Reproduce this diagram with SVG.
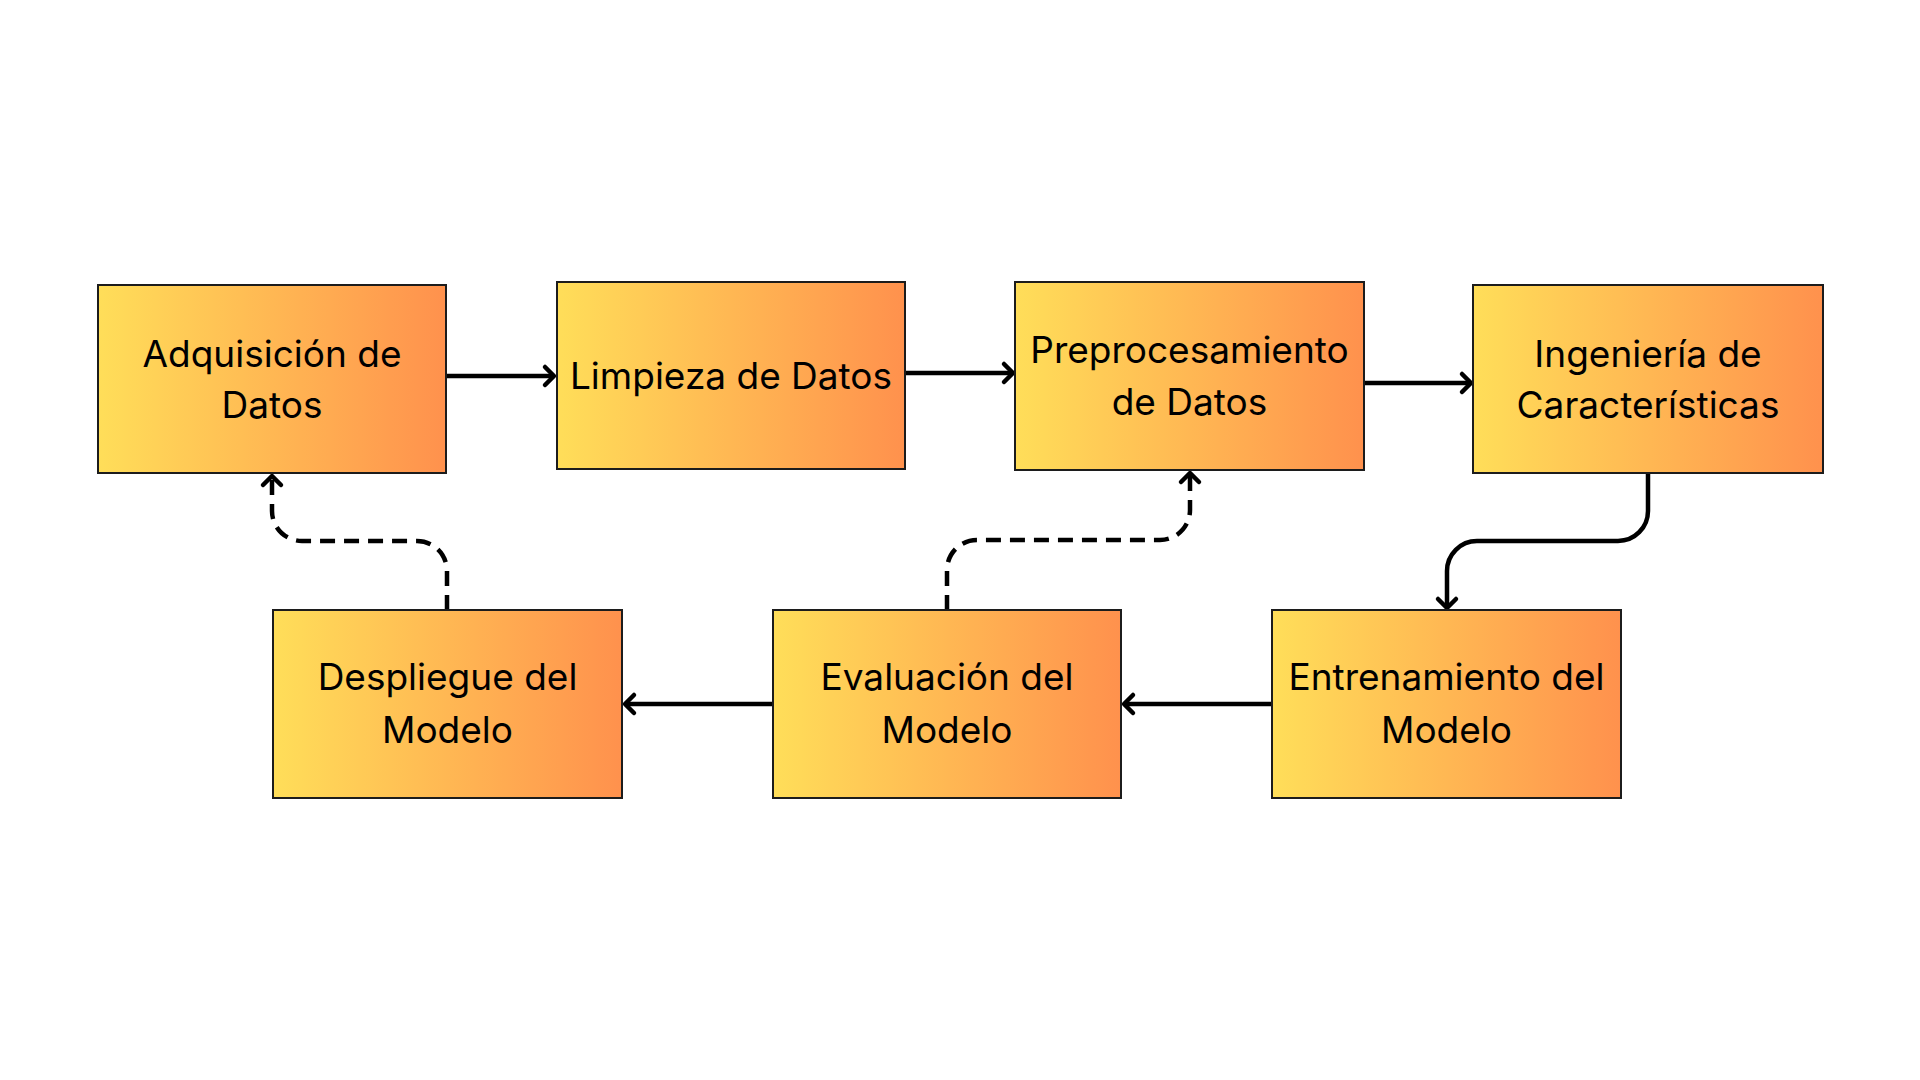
<svg xmlns="http://www.w3.org/2000/svg" width="1920" height="1080" viewBox="0 0 1920 1080">
<style>
.box{stroke:#1c1c1c;stroke-width:2;fill:url(#grad)}
.lbl{font-family:Inter,"Open Sans","Liberation Sans",sans-serif;font-size:37px;fill:#000;text-anchor:middle}
.con{fill:none;stroke:#000;stroke-width:4.5;stroke-linejoin:round}
.dash{stroke-dasharray:15 9}
</style>
<defs>
<linearGradient id="grad" x1="0" y1="0" x2="1" y2="0">
<stop offset="0" stop-color="#FFDE59"/>
<stop offset="1" stop-color="#FF914D"/>
</linearGradient>
<marker id="arr" markerUnits="userSpaceOnUse" markerWidth="30" markerHeight="30" viewBox="-15 -15 30 30" refX="0" refY="0" orient="auto">
<path d="M-9,-9 L0,0 L-9,9" fill="none" stroke="#000" stroke-width="4.5" stroke-linecap="round" stroke-linejoin="round" stroke-dasharray="none"/>
</marker>
</defs>
<rect width="1920" height="1080" fill="#fff"/>
<g id="connectors">
<path class="con" d="M446,376 H554" marker-end="url(#arr)"/>
<path class="con" d="M905,373 H1013" marker-end="url(#arr)"/>
<path class="con" d="M1364,383 H1471" marker-end="url(#arr)"/>
<path class="con" d="M1648,473 V511 A30,30 0 0 1 1618,541 H1477 A30,30 0 0 0 1447,571 V608" marker-end="url(#arr)"/>
<path class="con" d="M1272,704 H1124" marker-end="url(#arr)"/>
<path class="con" d="M773,704 H625" marker-end="url(#arr)"/>
<path class="con dash" d="M447,610 V571 A30,30 0 0 0 417,541 H302 A30,30 0 0 1 272,511 V476" marker-end="url(#arr)"/>
<path class="con dash" d="M947,610 V570 A30,30 0 0 1 977,540 H1160 A30,30 0 0 0 1190,510 V473" marker-end="url(#arr)"/>
</g>
<g id="n1"><rect class="box" x="98" y="285" width="348" height="188"/><text class="lbl" x="272" y="367">Adquisición de</text><text class="lbl" x="272" y="418">Datos</text></g>
<g id="n2"><rect class="box" x="557" y="282" width="348" height="187"/><text class="lbl" x="731" y="389">Limpieza de Datos</text></g>
<g id="n3"><rect class="box" x="1015" y="282" width="349" height="188"/><text class="lbl" x="1189.5" y="363">Preprocesamiento</text><text class="lbl" x="1189.5" y="415">de Datos</text></g>
<g id="n4"><rect class="box" x="1473" y="285" width="350" height="188"/><text class="lbl" x="1648" y="367">Ingeniería de</text><text class="lbl" x="1648" y="418">Características</text></g>
<g id="n5"><rect class="box" x="1272" y="610" width="349" height="188"/><text class="lbl" x="1446.5" y="690">Entrenamiento del</text><text class="lbl" x="1446.5" y="743">Modelo</text></g>
<g id="n6"><rect class="box" x="773" y="610" width="348" height="188"/><text class="lbl" x="947" y="690">Evaluación del</text><text class="lbl" x="947" y="743">Modelo</text></g>
<g id="n7"><rect class="box" x="273" y="610" width="349" height="188"/><text class="lbl" x="447.5" y="690">Despliegue del</text><text class="lbl" x="447.5" y="743">Modelo</text></g>
</svg>
